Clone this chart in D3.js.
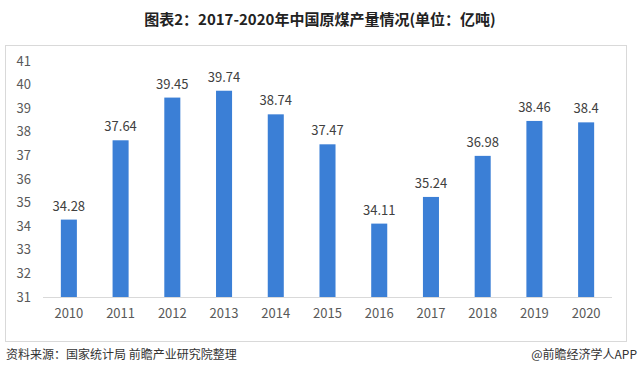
<!DOCTYPE html>
<html lang="zh">
<head>
<meta charset="UTF-8">
<title>原煤产量</title>
<script src="https://d3js.org/d3.v7.min.js"></script>
<style>
    body {margin: 0; background: #fff;}
    text {font-family: "Noto Sans CJK SC", "Noto Sans", sans-serif;}
</style>
</head>
<body>
<script>
    const years = ["2010","2011","2012","2013","2014","2015","2016","2017","2018","2019","2020"];
    const output = [34.28, 37.64, 39.45, 39.74, 38.74, 37.47, 34.11, 35.24, 36.98, 38.46, 38.4];
    const yTicks = [31, 32, 33, 34, 35, 36, 37, 38, 39, 40, 41];

    const width = 640, height = 376;
    const svg = d3.select("body").append("svg")
        .attr("width", width).attr("height", height);

    // title
    svg.append("text")
        .attr("x", 320).attr("y", 25)
        .attr("text-anchor", "middle")
        .style("font-size", "15px").style("font-weight", "bold")
        .attr("fill", "#222")
        .text("图表2：2017-2020年中国原煤产量情况(单位：亿吨)");

    // frame
    svg.append("rect")
        .attr("x", 5.5).attr("y", 45.5)
        .attr("width", 621).attr("height", 296)
        .attr("fill", "none").attr("stroke", "#d9d9d9");

    const x = d3.scaleBand().domain(years).range([43, 612]).paddingInner(0.69).paddingOuter(0.345);
    const y = d3.scaleLinear().domain([31, 41]).range([297, 61]);

    // baseline
    svg.append("line")
        .attr("x1", 43).attr("x2", 612)
        .attr("y1", y(31) + 0.5).attr("y2", y(31) + 0.5)
        .attr("stroke", "#d9d9d9");

    const yAxis = svg.append("g")
        .attr("transform", "translate(31,0)")
        .call(d3.axisLeft(y).tickValues(yTicks).tickSize(0).tickPadding(0));
    yAxis.select(".domain").remove();
    yAxis.selectAll("text").style("font-size", "13px").attr("fill", "#595959");

    const xAxis = svg.append("g")
        .attr("transform", `translate(0,${y(31)})`)
        .call(d3.axisBottom(x).tickSize(0).tickPadding(12));
    xAxis.select(".domain").remove();
    xAxis.selectAll("text").style("font-size", "13px").attr("fill", "#595959");

    const data = years.map((d, i) => ({year: d, value: output[i]}));

    svg.selectAll("rect.bar")
        .data(data)
        .enter().append("rect")
        .attr("class", "bar")
        .attr("x", d => x(d.year))
        .attr("y", d => y(d.value))
        .attr("width", x.bandwidth())
        .attr("height", d => y(31) - y(d.value))
        .attr("fill", "#3b7fd6");

    svg.selectAll("text.label")
        .data(data)
        .enter().append("text")
        .attr("class", "label")
        .attr("x", d => x(d.year) + x.bandwidth() / 2)
        .attr("y", d => y(d.value) - 9)
        .attr("text-anchor", "middle")
        .style("font-size", "13px")
        .attr("fill", "#404040")
        .text(d => d.value);

    // footer
    svg.append("text")
        .attr("x", 6).attr("y", 359)
        .style("font-size", "12px").attr("fill", "#333")
        .text("资料来源：国家统计局 前瞻产业研究院整理");
    svg.append("text")
        .attr("x", 637).attr("y", 359)
        .attr("text-anchor", "end")
        .style("font-size", "12px").attr("fill", "#333")
        .text("@前瞻经济学人APP");
</script>
</body>
</html>
